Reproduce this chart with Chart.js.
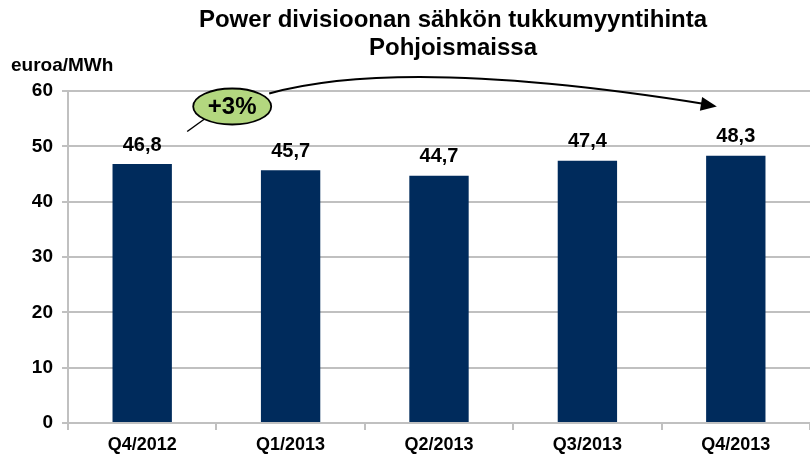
<!DOCTYPE html>
<html>
<head>
<meta charset="utf-8">
<script src="https://cdn.jsdelivr.net/npm/chart.js@4.4.0/dist/chart.umd.min.js"></script>
<style>
  html, body { margin: 0; padding: 0; background: #fff; }
  #wrap { width: 810px; height: 458px; position: relative; }
</style>
</head>
<body>
<div id="wrap"><canvas id="c" width="810" height="458"></canvas></div>
<script>
// ---- data ----
const categories = ["Q4/2012", "Q1/2013", "Q2/2013", "Q3/2013", "Q4/2013"];
const prices = [46.8, 45.7, 44.7, 47.4, 48.3];
const yTicks = [0, 10, 20, 30, 40, 50, 60];
const titleLines = ["Power divisioonan sähkön tukkumyyntihinta", "Pohjoismaissa"];
const unitLabel = "euroa/MWh";
const changeLabel = "+3%";

const FONT = "'Liberation Sans', Arial, sans-serif";
const GRID = "#c0c0c0";
const NAVY = "#002B5C";

// labels, title, callout
const extras = {
    id: "extras",
    afterDraw(chart) {
        const ctx = chart.ctx;
        const x = chart.scales.x;
        const y = chart.scales.y;
        const meta = chart.getDatasetMeta(0);

        ctx.save();
        ctx.fillStyle = "#000";

        // title
        ctx.font = "bold 24px " + FONT;
        ctx.textAlign = "center";
        ctx.textBaseline = "middle";
        ctx.fillText(titleLines[0], 453, 20);
        ctx.fillText(titleLines[1], 453, 48);

        // unit
        ctx.font = "bold 19px " + FONT;
        ctx.textAlign = "left";
        ctx.fillText(unitLabel, 11, 66);

        // value labels
        ctx.font = "bold 20px " + FONT;
        ctx.textAlign = "center";
        meta.data.forEach((bar, i) => {
            ctx.fillText(prices[i].toFixed(1).replace(".", ","), bar.x, bar.y - 19);
        });

        // callout: leader + ellipse
        const ex = x.getPixelForValue(0) + 90;
        const ey = y.getPixelForValue(57.2);
        ctx.strokeStyle = "#000";
        ctx.lineWidth = 1.5;
        ctx.beginPath();
        ctx.moveTo(ex - 27, ey + 12);
        ctx.lineTo(ex - 45, ey + 25);
        ctx.stroke();

        // curved arrow to last bar
        const tipX = x.getPixelForValue(categories.length - 1) - 19;
        const tipY = ey;
        const sx = ex + 37, sy = ey - 13;
        const cx = 405, cy = 56;
        ctx.lineWidth = 2;
        ctx.beginPath();
        ctx.moveTo(sx, sy);
        ctx.quadraticCurveTo(cx, cy, tipX - 12, tipY - 2.5);
        ctx.stroke();
        const ang = Math.atan2(tipY - cy, tipX - cx);
        ctx.beginPath();
        ctx.moveTo(tipX, tipY);
        ctx.lineTo(tipX - 16 * Math.cos(ang) + 7 * Math.sin(ang), tipY - 16 * Math.sin(ang) - 7 * Math.cos(ang));
        ctx.lineTo(tipX - 16 * Math.cos(ang) - 7 * Math.sin(ang), tipY - 16 * Math.sin(ang) + 7 * Math.cos(ang));
        ctx.closePath();
        ctx.fillStyle = "#000";
        ctx.fill();

        ctx.beginPath();
        ctx.ellipse(ex, ey, 39, 18, 0, 0, Math.PI * 2);
        ctx.fillStyle = "#B3D77F";
        ctx.fill();
        ctx.lineWidth = 1.8;
        ctx.stroke();

        ctx.fillStyle = "#000";
        ctx.font = "bold 24px " + FONT;
        ctx.textAlign = "center";
        ctx.textBaseline = "middle";
        ctx.fillText(changeLabel, ex, ey + 1);

        ctx.restore();
    }
};

new Chart(document.getElementById("c"), {
    type: "bar",
    data: {
        labels: categories,
        datasets: [{
            data: prices,
            backgroundColor: NAVY,
            borderWidth: 0,
            categoryPercentage: 1.0,
            barPercentage: 0.4
        }]
    },
    options: {
        responsive: false,
        animation: false,
        layout: { padding: { top: 91, left: 0, right: 0, bottom: 0 } },
        plugins: {
            legend: { display: false },
            tooltip: { enabled: false },
            title: { display: false }
        },
        scales: {
            x: {
                afterFit(s) { s.height = 35; },
                grid: {
                    offset: true,
                    drawOnChartArea: false,
                    drawTicks: true,
                    tickLength: 7,
                    color: GRID,
                    lineWidth: 2
                },
                border: { color: GRID, width: 2 },
                ticks: {
                    color: "#000",
                    padding: 4,
                    font: { family: FONT, size: 18, weight: "bold" }
                }
            },
            y: {
                min: 0,
                max: 60,
                afterFit(s) { s.width = 68; },
                afterBuildTicks(s) { s.ticks = yTicks.map(v => ({ value: v })); },
                grid: {
                    color: GRID,
                    lineWidth: 2,
                    drawTicks: true,
                    tickLength: 6
                },
                border: { color: GRID, width: 2 },
                ticks: {
                    color: "#000",
                    padding: 9,
                    font: { family: FONT, size: 19, weight: "bold" }
                }
            }
        }
    },
    plugins: [extras]
});
</script>
</body>
</html>
